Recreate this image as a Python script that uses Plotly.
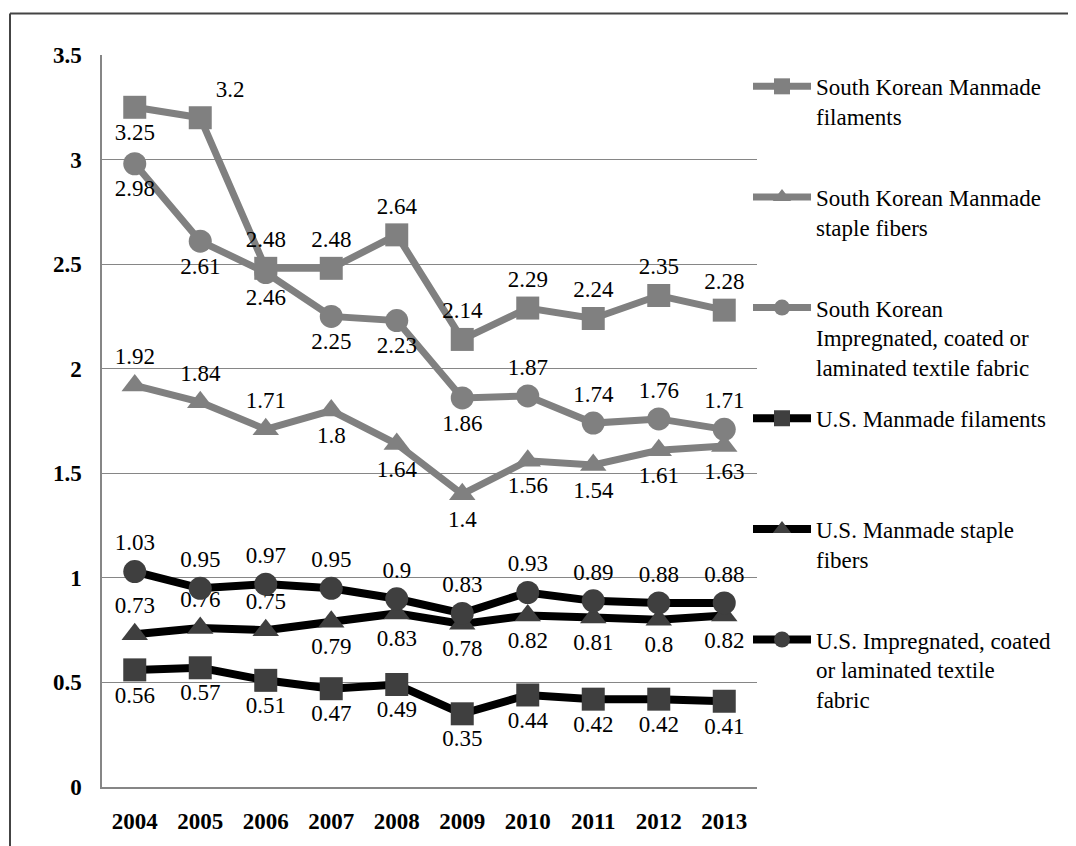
import plotly.graph_objects as go

years = ["2004", "2005", "2006", "2007", "2008", "2009", "2010", "2011", "2012", "2013"]

sk_filaments = [3.25, 3.2, 2.48, 2.48, 2.64, 2.14, 2.29, 2.24, 2.35, 2.28]
sk_staple = [1.92, 1.84, 1.71, 1.8, 1.64, 1.4, 1.56, 1.54, 1.61, 1.63]
sk_coated = [2.98, 2.61, 2.46, 2.25, 2.23, 1.86, 1.87, 1.74, 1.76, 1.71]
us_filaments = [0.56, 0.57, 0.51, 0.47, 0.49, 0.35, 0.44, 0.42, 0.42, 0.41]
us_staple = [0.73, 0.76, 0.75, 0.79, 0.83, 0.78, 0.82, 0.81, 0.8, 0.82]
us_coated = [1.03, 0.95, 0.97, 0.95, 0.9, 0.83, 0.93, 0.89, 0.88, 0.88]

names = [
    "South Korean Manmade<br>filaments",
    "South Korean Manmade<br>staple fibers",
    "South Korean<br>Impregnated, coated or<br>laminated textile fabric",
    "U.S. Manmade filaments",
    "U.S. Manmade staple<br>fibers",
    "U.S. Impregnated, coated<br>or laminated textile<br>fabric",
]

TC, BC, TR = "top center", "bottom center", "top right"
pos = [
    [BC, TR, TC, TC, TC, TC, TC, TC, TC, TC],
    [TC, TC, TC, BC, BC, BC, BC, BC, BC, BC],
    [BC, BC, BC, BC, BC, BC, TC, TC, TC, TC],
    [BC] * 10,
    [TC, TC, TC, BC, BC, BC, BC, BC, BC, BC],
    [TC] * 10,
]

series = [sk_filaments, sk_staple, sk_coated, us_filaments, us_staple, us_coated]
symbols = ["square", "triangle-up", "circle", "square", "triangle-up", "circle"]
line_colors = ["#808080"] * 3 + ["#000000"] * 3
marker_colors = ["#808080"] * 3 + ["#3f3f3f"] * 3
line_widths = [7, 7, 7, 8, 8, 8]

FONT = "Liberation Serif"
fig = go.Figure()
for i, vals in enumerate(series):
    leg = "legend" if i == 0 else f"legend{i+1}"
    fig.add_trace(go.Scatter(
        x=years, y=vals, name=names[i], mode="lines+markers+text",
        text=[f"{v:g}" for v in vals], textposition=pos[i],
        textfont=dict(family=FONT, size=23, color="#000000"),
        line=dict(color=line_colors[i], width=line_widths[i]),
        marker=dict(symbol=symbols[i], size=23, color=marker_colors[i]),
        legend=leg, cliponaxis=False,
    ))

# page offset introduced by the default body margin of the html page
OFF = 8
W, H = 1076 - OFF, 846 - OFF
PL, PR, PT, PB = 102, 757, 55, 796  # plot area in page pixels
L, R, T, B = PL - OFF, W - (PR - OFF), PT - OFF, H - (PB - OFF)
pw, ph = W - L - R, H - T - B


def px_x(p):
    return (p - OFF - L) / pw


def px_y(p):
    return (H - B - (p - OFF)) / ph


layout_legends = {}
for i in range(6):
    key = "legend" if i == 0 else f"legend{i+1}"
    center = 87 + 112 * i
    layout_legends[key] = dict(
        x=px_x(748), y=px_y(center - 22), xanchor="left", yanchor="top",
        font=dict(family=FONT, size=23, color="#000000"),
        bgcolor="rgba(0,0,0,0)", valign="top", itemwidth=58,
    )

fig.update_layout(
    width=W, height=H,
    margin=dict(l=L, r=R, t=T, b=B),
    paper_bgcolor="white", plot_bgcolor="white",
    showlegend=True,
    **layout_legends,
    xaxis=dict(
        type="category", range=[-0.5, 9.5], showgrid=False, zeroline=False,
        showline=True, linecolor="#868686", linewidth=1.5, ticks="",
        tickfont=dict(family=FONT, size=23, color="#000000", weight="bold"),
        ticklabelstandoff=13,
    ),
    yaxis=dict(
        range=[0, 3.5], dtick=0.5, showgrid=True, gridcolor="#868686", gridwidth=1.3,
        zeroline=False, showline=True, linecolor="#868686", linewidth=1.5, ticks="",
        tickfont=dict(family=FONT, size=23, color="#000000", weight="bold"),
        ticklabelstandoff=14,
    ),
    shapes=[
        dict(type="line", xref="paper", yref="paper", x0=px_x(10), x1=px_x(1090),
             y0=px_y(13), y1=px_y(13), line=dict(color="#444444", width=2)),
        dict(type="line", xref="paper", yref="paper", x0=px_x(10), x1=px_x(10),
             y0=px_y(13), y1=px_y(860), line=dict(color="#444444", width=2)),
    ],
)

fig.write_html("out.html")
